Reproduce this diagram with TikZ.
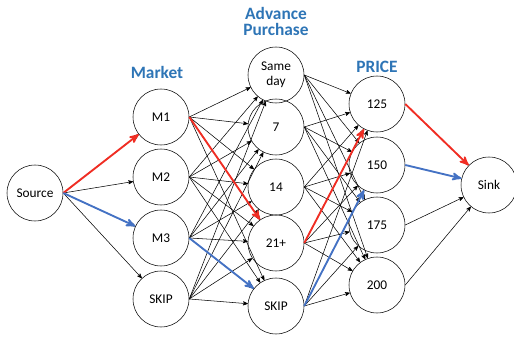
\documentclass[tikz,border=0pt]{standalone}
\usepackage{fontspec}
\setmainfont{Carlito}
\usetikzlibrary{arrows}
\definecolor{pathred}{RGB}{240,45,35}
\definecolor{pathblue}{RGB}{68,114,196}
\definecolor{headblue}{RGB}{46,117,182}
\begin{document}
\begin{tikzpicture}[x=0.75pt,y=-0.75pt]
			\tikzstyle{stage} = [
				circle, draw = black, thin,
				inner sep = 0pt, minimum size = 42pt,
				align = center, font = \fontsize{10}{11}\selectfont
			]
			\tikzstyle{head} = [text = headblue, font = \fontsize{13}{15}\selectfont\bfseries, align = center]
			\tikzstyle{line} = [->, draw = black, >=stealth', line width = 0.4pt]
			\tikzstyle{redline} = [->, draw = pathred, >=stealth', line width = 1.4pt]
			\tikzstyle{blueline} = [->, draw = pathblue, >=stealth', line width = 1.4pt]
			\useasboundingbox (0,0) rectangle (514,338);
			% column headers
			\node[head] (hm) at (157,72) {Market};
			\node[head] (ha) at (276,21) {Advance\\[-3pt]Purchase};
			\node[head] (hp) at (377,67) {PRICE};
			% nodes
			\node[stage] (src) at (35,193) {Source};
			\node[stage] (m1) at (161,117) {M1};
			\node[stage] (m2) at (161,177) {M2};
			\node[stage] (m3) at (161,238) {M3};
			\node[stage] (m4) at (161,299) {SKIP};
			\node[stage] (a1) at (276,75) {Same\\day};
			\node[stage] (a2) at (276,127) {7};
			\node[stage] (a3) at (276,187) {14};
			\node[stage] (a4) at (276,243) {21+};
			\node[stage] (a5) at (276,306) {SKIP};
			\node[stage] (p1) at (377,104) {125};
			\node[stage] (p2) at (377,165) {150};
			\node[stage] (p3) at (377,225) {175};
			\node[stage] (p4) at (377,285) {200};
			\node[stage] (sink) at (489,185) {Sink};
			% all arcs
			\foreach \m in {1,...,4} {
				\draw (src.east) to (m\m) [line];
				\foreach \a in {1,...,5}
					\draw (m\m.east) to (a\a) [line];
			}
			\foreach \a in {1,...,5}
				\foreach \p in {1,...,4}
					\draw (a\a.east) to (p\p) [line];
			\foreach \p in {3,4}
				\draw (p\p.east) to (sink) [line];
			% highlighted paths
			\draw (src.east) to (m1) [redline];
			\draw (m1.east) to (a4) [redline];
			\draw (a4.east) to (p1) [redline];
			\draw (p1.east) to (sink) [redline];
			\draw (src.east) to (m3) [blueline];
			\draw (m3.east) to (a5) [blueline];
			\draw (a5.east) to (p2) [blueline];
			\draw (p2.east) to (sink) [blueline];
		\end{tikzpicture}
\end{document}
